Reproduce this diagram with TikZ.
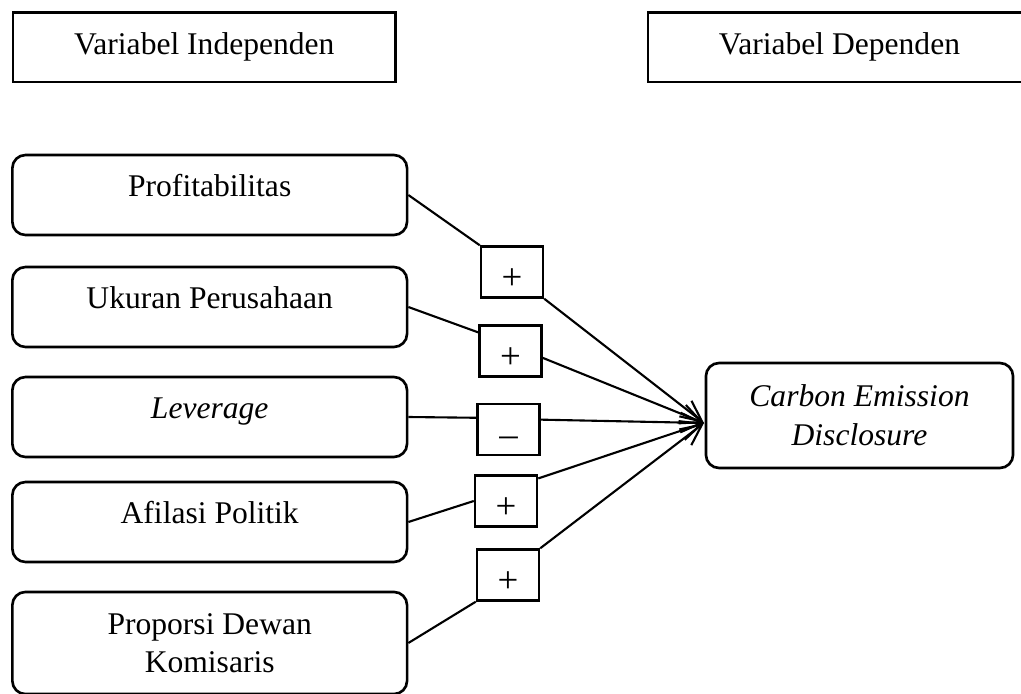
\documentclass[tikz,border=0pt]{standalone}
\usepackage{fontspec}
\setmainfont{Liberation Serif}
\usetikzlibrary{arrows.meta}

\tikzset{
  varbox/.style={draw, line width=1pt, minimum width=145.5pt, minimum height=26.3pt},
  indbox/.style={draw, line width=1pt, rounded corners=5pt, minimum width=150pt,
    minimum height=30.4pt, text height=8pt, text depth=6.5pt},
  signbox/.style={draw, line width=0.9pt, minimum width=23.6pt, minimum height=19.4pt,
    inner sep=0pt, text height=13pt, text depth=0pt, font=\fontsize{14}{14}\selectfont},
  depbox/.style={draw, line width=1pt, rounded corners=5pt, minimum width=116.7pt,
    minimum height=39.9pt, align=center, font=\fontsize{12}{14.8}\selectfont\itshape},
  link/.style={line width=0.8pt},
  arr/.style={line width=0.8pt, -{Straight Barb[length=8pt,width=7.5pt]}}
}

\begin{document}
\begin{tikzpicture}[x=0.38pt, y=-0.38pt, font=\fontsize{12}{14.6}\selectfont]
\useasboundingbox (0,0) rectangle (1021,694);
% header boxes
\node [varbox] (vind) at (204.3,47.3) {Variabel Independen};
\node [varbox] (vdep) at (839.5,47.3) {Variabel Dependen};
% independent variables
\node [indbox] (prof) at (209.7,195) {Profitabilitas};
\node [indbox] (ukuran) at (209.7,307) {Ukuran Perusahaan};
\node [indbox] (lev) at (209.7,417) {\textit{Leverage}};
\node [indbox] (afil) at (209.7,522) {Afilasi Politik};
\node [indbox, minimum height=38.8pt, align=center, text height={}, text depth={}] (prop) at (209.7,643) {Proporsi Dewan\\Komisaris};
% dependent variable
\node [depbox] (ced) at (859.5,415.5) {Carbon Emission\\Disclosure};
\coordinate (tip) at (704,423);
% signs
\node [signbox] (s1) at (512,272) {+};
\node [signbox] (s2) at (510.5,351) {+};
\node [signbox] (s3) at (508.5,429.5) {--};
\node [signbox] (s4) at (506,501) {+};
\node [signbox] (s5) at (508,575) {+};
% connectors
\draw [link] (prof.east) -- (s1.north west);
\draw [arr] (s1.south east) -- (tip);
\draw [link] (ukuran.east) -- (s2.150);
\draw [arr] (s2.-12) -- (tip);
\draw [link] (lev.east) -- (s3.160);
\draw [arr] (s3.17) -- (tip);
\draw [link] (afil.east) -- (s4.west);
\draw [arr] (s4.35) -- (tip);
\draw [link] (prop.east) -- (s5.south west);
\draw [arr] (s5.north east) -- (tip);
\end{tikzpicture}
\end{document}
